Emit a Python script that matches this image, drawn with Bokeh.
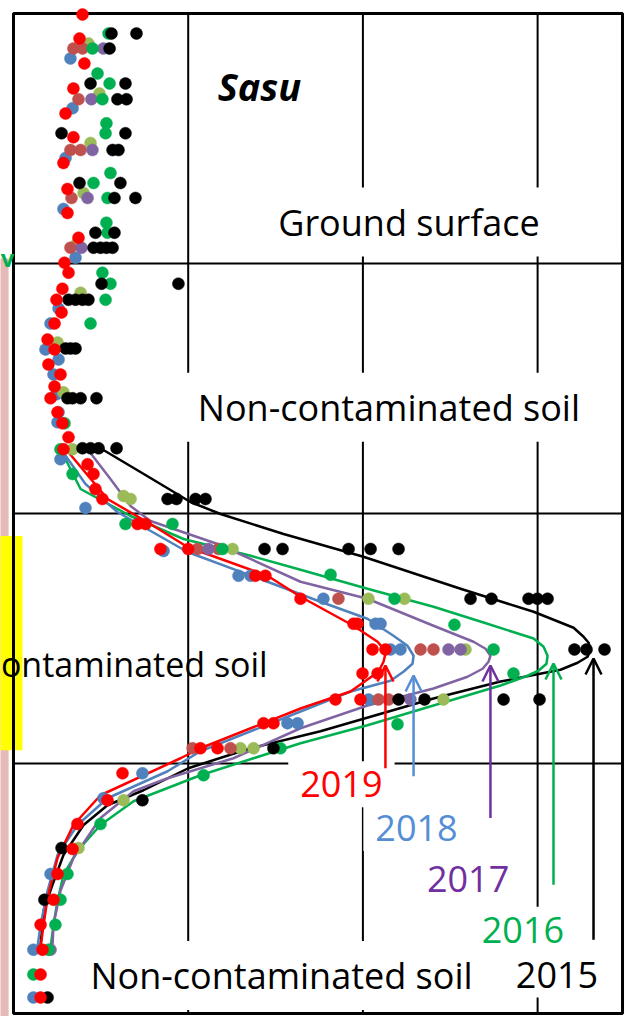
from bokeh.plotting import figure
from bokeh.models import Range1d, Label, Arrow, OpenHead, BoxAnnotation
from bokeh.embed import file_html
from bokeh.resources import INLINE

# ---------------- axis limits / gridlines (concentration x, depth y downward) ----
x_limit = 3.486
depth_limit = 4.0
x_grid = [1, 2, 3]
depth_grid = [1, 2, 3]

# ---------------- fitted curves ----------------
curve_2015_x = [0.498, 0.784, 1.013, 1.185, 1.546, 2.003, 2.559, 2.977, 3.206, 3.263, 3.292, 3.303, 3.286, 3.229, 3.131, 2.788, 2.404, 1.757, 1.357, 1.0, 0.744, 0.538, 0.401, 0.286, 0.223, 0.172, 0.155]
curve_2015_d = [1.739, 1.858, 1.954, 2.002, 2.082, 2.173, 2.301, 2.393, 2.457, 2.493, 2.517, 2.545, 2.573, 2.597, 2.625, 2.672, 2.74, 2.871, 2.939, 3.019, 3.107, 3.167, 3.246, 3.366, 3.485, 3.589, 3.725]

curve_2016_x = [0.269, 0.384, 0.67, 0.973, 1.357, 1.643, 2.026, 2.404, 2.713, 2.977, 3.034, 3.057, 3.051, 3.005, 2.942, 2.788, 2.404, 2.026, 1.643, 1.374, 1.07, 0.687, 0.498, 0.366, 0.286, 0.252, 0.229, 0.212]
curve_2016_d = [1.743, 1.902, 2.01, 2.102, 2.169, 2.225, 2.301, 2.373, 2.441, 2.5, 2.533, 2.569, 2.601, 2.629, 2.649, 2.688, 2.768, 2.847, 2.919, 2.979, 3.047, 3.151, 3.246, 3.35, 3.446, 3.549, 3.645, 3.737]

curve_2017_x = [0.424, 0.555, 0.67, 0.784, 1.168, 1.643, 2.026, 2.404, 2.633, 2.702, 2.73, 2.719, 2.685, 2.599, 2.404, 2.026, 1.643, 1.259, 0.882, 0.687, 0.498, 0.343, 0.269, 0.229, 0.223]
curve_2017_d = [1.743, 1.862, 1.97, 2.03, 2.122, 2.273, 2.341, 2.449, 2.513, 2.541, 2.569, 2.593, 2.621, 2.653, 2.7, 2.768, 2.859, 2.979, 3.059, 3.111, 3.218, 3.378, 3.509, 3.645, 3.737]

curve_2018_x = [0.28, 0.412, 0.595, 0.996, 1.454, 1.757, 2.026, 2.175, 2.255, 2.29, 2.284, 2.232, 2.158, 1.929, 1.643, 1.07, 0.882, 0.538, 0.366, 0.252, 0.195, 0.155, 0.137]
curve_2018_d = [1.751, 1.882, 1.994, 2.154, 2.273, 2.353, 2.421, 2.489, 2.529, 2.569, 2.601, 2.633, 2.669, 2.712, 2.792, 2.951, 3.031, 3.139, 3.246, 3.366, 3.509, 3.645, 3.737]

curve_2019_x = [0.286, 0.538, 0.784, 0.996, 1.454, 1.643, 1.946, 2.084, 2.118, 2.129, 2.118, 2.089, 1.929, 1.643, 1.07, 0.956, 0.498, 0.343, 0.252, 0.195, 0.172, 0.155]
curve_2019_d = [1.731, 1.942, 2.042, 2.134, 2.249, 2.333, 2.449, 2.513, 2.541, 2.561, 2.593, 2.633, 2.712, 2.78, 2.939, 2.979, 3.127, 3.246, 3.378, 3.537, 3.645, 3.737]

# ---------------- measured points ----------------
pts_2015_x = [0.561, 0.704, 0.55, 0.441, 0.641, 0.595, 0.647, 0.275, 0.641, 0.567, 0.601, 0.378, 0.612, 0.578, 0.698, 0.469, 0.578, 0.458, 0.498, 0.532, 0.567,
              0.504, 0.944, 0.315, 0.355, 0.395, 0.429, 0.298, 0.326, 0.355, 0.309, 0.338, 0.384, 0.475, 0.395, 0.441, 0.487, 0.59,
              0.882, 0.933, 1.042, 1.099, 1.437, 1.54, 1.918, 2.044, 2.204, 2.616, 2.736, 2.948, 2.999, 3.057, 3.211, 3.28, 3.383,
              2.204, 2.353, 2.805, 3.011, 1.488, 0.738, 0.275, 0.177, 0.195]
pts_2015_d = [0.08, 0.08, 0.14, 0.28, 0.28, 0.343, 0.343, 0.479, 0.479, 0.546, 0.546, 0.678, 0.678, 0.738, 0.738, 0.877, 0.877, 0.937, 0.937, 0.937, 0.937,
              1.081, 1.081, 1.145, 1.145, 1.145, 1.145, 1.34, 1.34, 1.34, 1.539, 1.539, 1.539, 1.539, 1.739, 1.739, 1.739, 1.739,
              1.942, 1.942, 1.942, 1.942, 2.142, 2.142, 2.142, 2.142, 2.142, 2.341, 2.341, 2.341, 2.341, 2.341, 2.544, 2.544, 2.544,
              2.744, 2.744, 2.744, 2.744, 2.939, 3.147, 3.338, 3.545, 3.936]

pts_2016_x = [0.544, 0.452, 0.481, 0.55, 0.509, 0.532, 0.527, 0.555, 0.458, 0.538, 0.532, 0.538,
              0.509, 0.555, 0.527, 0.441, 0.292, 0.269, 0.338, 0.641, 0.91, 1.196, 1.815, 2.181, 2.524, 2.748, 2.862,
              2.198, 1.528, 1.088, 0.498, 0.309, 0.269, 0.24, 0.2, 0.114]
pts_2016_d = [0.08, 0.14, 0.24, 0.28, 0.343, 0.439, 0.479, 0.638, 0.678, 0.738, 0.837, 0.877,
              1.037, 1.081, 1.145, 1.24, 1.639, 1.743, 1.842, 2.042, 2.042, 2.142, 2.245, 2.341, 2.445, 2.544, 2.64,
              2.843, 2.939, 3.047, 3.242, 3.442, 3.545, 3.645, 3.745, 3.844]

pts_2017_x = [0.515, 0.446, 0.452, 0.424, 0.389, 1.116, 2.49, 2.559, 2.272, 0.212]
pts_2017_d = [0.14, 0.343, 0.546, 0.738, 0.937, 2.142, 2.544, 2.544, 2.744, 3.745]

pts_2018_x = [0.326, 0.338, 0.298, 0.286, 0.355, 0.258, 0.212, 0.183, 0.258, 0.229, 0.246, 0.258, 0.252, 0.269, 0.412,
              0.859, 1.288, 1.357, 1.774, 2.072, 2.101, 2.158, 2.215, 2.032, 1.568, 1.626, 0.738, 0.515, 0.212, 0.114, 0.114]
pts_2018_d = [0.18, 0.379, 0.578, 0.782, 0.977, 1.18, 1.24, 1.344, 1.384, 1.444, 1.523, 1.595, 1.635, 1.783, 1.978,
              2.15, 2.249, 2.249, 2.341, 2.441, 2.441, 2.544, 2.544, 2.744, 2.839, 2.839, 3.039, 3.139, 3.442, 3.745, 3.936]

pts_2019_x = [0.395, 0.378, 0.406, 0.343, 0.298, 0.343, 0.286, 0.309, 0.309, 0.372, 0.292, 0.315, 0.28, 0.246, 0.275, 0.235,
              0.195, 0.235, 0.2, 0.269, 0.235, 0.212, 0.252, 0.28, 0.315, 0.286, 0.424, 0.458, 0.469, 0.509, 0.71, 0.756,
              0.841, 1.0, 1.385, 1.442, 1.643, 1.946, 1.969, 2.055, 2.129, 1.998, 2.084, 1.843, 1.986, 1.431, 1.488,
              1.07, 1.168, 0.624, 0.538, 0.366, 0.338, 0.252, 0.229, 0.155, 0.166, 0.155, 0.155]
pts_2019_d = [0.004, 0.1, 0.2, 0.3, 0.4, 0.495, 0.598, 0.702, 0.798, 0.897, 0.997, 1.037, 1.101, 1.145, 1.196, 1.24,
              1.304, 1.344, 1.404, 1.444, 1.492, 1.539, 1.595, 1.639, 1.695, 1.743, 1.803, 1.842, 1.902, 1.942, 2.042, 2.042,
              2.142, 2.142, 2.249, 2.249, 2.341, 2.441, 2.441, 2.544, 2.544, 2.64, 2.64, 2.744, 2.744, 2.839, 2.839,
              2.939, 2.939, 3.039, 3.147, 3.242, 3.342, 3.442, 3.545, 3.645, 3.745, 3.844, 3.936]

pts_brown_x = [0.343, 0.395, 0.372, 0.326, 0.384, 0.332, 0.326, 1.053, 1.173, 1.86, 2.33, 2.404, 2.089, 2.147, 1.025, 1.242]
pts_brown_d = [0.14, 0.14, 0.343, 0.546, 0.546, 0.738, 0.937, 2.142, 2.142, 2.341, 2.544, 2.544, 2.744, 2.744, 2.939, 2.939]

pts_olive_x = [0.429, 0.492, 0.441, 0.401, 0.366, 0.384, 0.252, 0.286, 0.338, 0.63, 0.67, 1.254, 2.032, 2.238, 2.587, 2.461, 1.299, 1.374, 0.63, 0.372]
pts_olive_d = [0.12, 0.32, 0.518, 0.718, 0.917, 1.117, 1.316, 1.515, 1.743, 1.93, 1.942, 2.142, 2.341, 2.341, 2.544, 2.744, 2.939, 2.939, 3.147, 3.338]

# ---------------- peak arrows (annotation) ----------------
years = ["2015", "2016", "2017", "2018", "2019"]
peak_x = [3.32, 3.091, 2.73, 2.29, 2.129]
arrow_tip_d = [2.58, 2.60, 2.608, 2.648, 2.608]
arrow_tail_d = [3.705, 3.485, 3.218, 3.051, 3.019]
year_label_x = [3.111, 2.916, 2.602, 2.307, 1.877]
year_label_d = [3.844, 3.665, 3.462, 3.258, 3.083]

curve_colors = ["#000000", "#00b050", "#8064a2", "#4f81bd", "#ff0000"]
label_colors = ["#000000", "#00b050", "#7030a0", "#558ed5", "#ff0000"]

p = figure(width=626, height=1016, output_backend="svg", toolbar_location=None,
           x_range=Range1d(-0.0744, 3.5088), y_range=Range1d(4.012, -0.052),
           x_axis_location=None, y_axis_location=None, min_border=0)
p.outline_line_color = None
p.grid.visible = False
p.background_fill_color = "white"
p.border_fill_color = "white"

# side decorations (pink strip, yellow box)
p.add_layout(BoxAnnotation(left=-0.2, right=-0.028, top=0.98, bottom=4.2,
                           fill_color="#e6b9b8", fill_alpha=1.0, line_color=None, level="underlay"))
p.add_layout(BoxAnnotation(left=-0.2, right=0.0515, top=2.09, bottom=2.947,
                           fill_color="#ffff00", fill_alpha=1.0, line_color=None, level="underlay"))

# gridlines and frame
p.segment(x0=x_grid, y0=[0] * 3, x1=x_grid, y1=[depth_limit] * 3, line_color="black", line_width=2)
p.segment(x0=[0] * 3, y0=depth_grid, x1=[x_limit] * 3, y1=depth_grid, line_color="black", line_width=2)
p.quad(left=[0], right=[x_limit], top=[0], bottom=[depth_limit], fill_color=None, line_color="black", line_width=3)

# curves
curves = [(curve_2015_x, curve_2015_d), (curve_2016_x, curve_2016_d), (curve_2017_x, curve_2017_d),
          (curve_2018_x, curve_2018_d), (curve_2019_x, curve_2019_d)]
for (cx, cd), col in zip(curves, curve_colors):
    p.line(cx, cd, line_color=col, line_width=2.5, line_join="round")

# points
series = [
    (pts_2018_x, pts_2018_d, "#4f81bd"),
    (pts_olive_x, pts_olive_d, "#9bbb59"),
    (pts_brown_x, pts_brown_d, "#c0504d"),
    (pts_2017_x, pts_2017_d, "#8064a2"),
    (pts_2016_x, pts_2016_d, "#00b050"),
    (pts_2015_x, pts_2015_d, "#000000"),
    (pts_2019_x, pts_2019_d, "#ff0000"),
]
for sx, sd, col in series:
    p.scatter(sx, sd, size=12, fill_color=col, line_color=col, line_width=0.5)

font = "Open Sans"
pad = dict(left=12, right=12, top=10, bottom=10)

def add_text(x, y, text, color="black", size="36px", style="normal", align="center", bg=True, baseline="middle"):
    kw = dict(x=x, y=y, text=text, text_font=font, text_font_size=size, text_font_style=style,
              text_color=color, text_align=align, text_baseline=baseline)
    if bg:
        kw.update(background_fill_color="white", background_fill_alpha=1.0, padding=pad)
    p.add_layout(Label(**kw))

add_text(1.408, 0.291, "Sasu", style="bold italic", size="38px", bg=False)
add_text(2.264, 0.834, "Ground surface")
add_text(2.149, 1.575, "Non-contaminated soil")
add_text(-0.072, 2.60, "ontaminated soil", size="34px", align="left", bg=False)
add_text(1.534, 3.848, "Non-contaminated soil")
add_text(-0.0735, 0.975, "v", color="#00b050", size="24px", style="bold", align="left", bg=False, baseline="alphabetic")
for yx, yd, yr, col in zip(year_label_x, year_label_d, years, label_colors):
    add_text(yx, yd, yr, color=col)

for ax, tip, tail, col in zip(peak_x, arrow_tip_d, arrow_tail_d, label_colors):
    p.add_layout(Arrow(x_start=ax, y_start=tail, x_end=ax, y_end=tip, line_color=col, line_width=2.5,
                       end=OpenHead(size=16, line_color=col, line_width=2.5)))

open("out.html", "w").write(file_html(p, INLINE))
